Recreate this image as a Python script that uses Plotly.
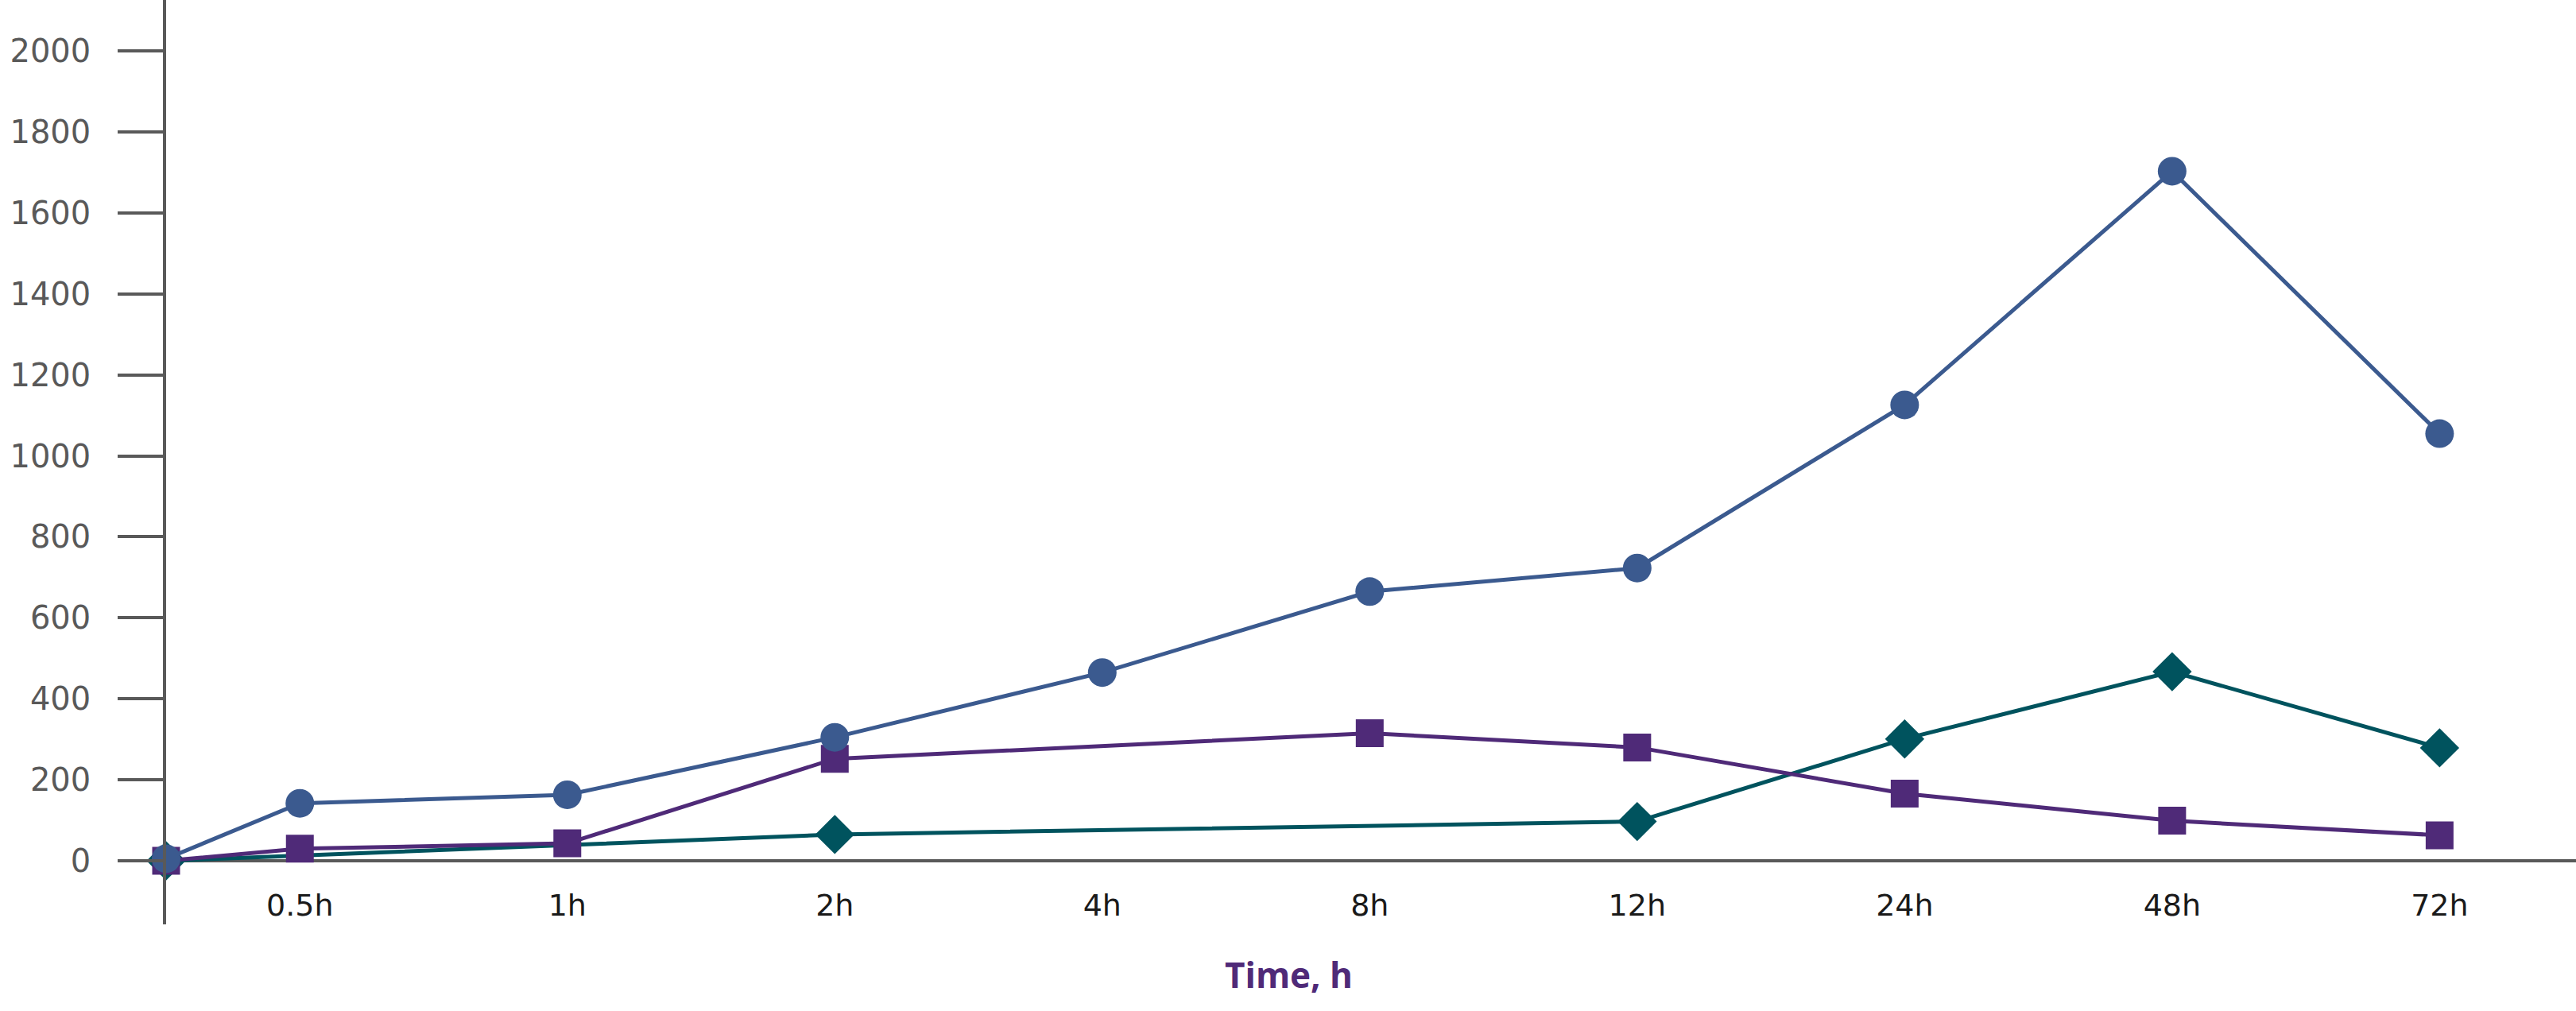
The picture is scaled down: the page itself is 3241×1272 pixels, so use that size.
import plotly.graph_objects as go

# ---- data ----
time_labels = ["0h", "0.5h", "1h", "2h", "4h", "8h", "12h", "24h", "48h", "72h"]
series_a = [5, 142, 163, 305, 465, 665, 723, 1126, 1703, 1055]      # circles (blue)
series_b = [0, 30, 43, 252, None, 315, 280, 166, 99, 63]            # squares (purple)
series_c = [0, None, None, 65, None, None, 97, 301, 467, 279]       # diamonds (teal)
y_ticks = [0, 200, 400, 600, 800, 1000, 1200, 1400, 1600, 1800, 2000]
x_title = "Time, h"

# ---- layout helpers ----
# origin point sits on the value axis, half a category before the first labelled time
x_pos = [-0.5] + list(range(len(time_labels) - 1))
tick_pos = x_pos[1:]
tick_text = time_labels[1:]

BLUE = "#3b5a8f"
PURPLE = "#4f2a78"
TEAL = "#00535e"
AXIS = "#595959"
FONT = "DejaVu Sans"

fig = go.Figure()
fig.add_trace(go.Scatter(x=x_pos, y=series_c, mode="lines+markers", connectgaps=True,
                         cliponaxis=False,
                         line=dict(color=TEAL, width=5),
                         marker=dict(symbol="diamond", size=38, color=TEAL, line=dict(width=0)),
                         showlegend=False))
fig.add_trace(go.Scatter(x=x_pos, y=series_b, mode="lines+markers", connectgaps=True,
                         cliponaxis=False,
                         line=dict(color=PURPLE, width=5),
                         marker=dict(symbol="square", size=35, color=PURPLE, line=dict(width=0)),
                         showlegend=False))
fig.add_trace(go.Scatter(x=x_pos, y=series_a, mode="lines+markers", connectgaps=True,
                         cliponaxis=False,
                         line=dict(color=BLUE, width=5),
                         marker=dict(symbol="circle", size=36, color=BLUE, line=dict(width=0)),
                         showlegend=False))

fig.update_layout(
    width=3241, height=1272,
    margin=dict(l=209, r=0, t=0, b=109),
    paper_bgcolor="white", plot_bgcolor="white",
    font=dict(family=FONT),
    xaxis=dict(range=[-0.5, 8.51], tickvals=tick_pos, ticktext=tick_text,
               showgrid=False, zeroline=False, showline=False, ticks="",
               ticklabelposition="inside",
               tickfont=dict(size=38, color="#1a1a1a", family=FONT)),
    yaxis=dict(range=[-157, 2126], tickvals=y_ticks, showgrid=False,
               zeroline=True, zerolinecolor=AXIS, zerolinewidth=3.5,
               showline=True, linecolor=AXIS, linewidth=3.5,
               ticks="outside", ticklen=57, tickwidth=3.5, tickcolor=AXIS,
               ticklabelstandoff=26,
               tickfont=dict(size=40, color=AXIS, family=FONT)),
    annotations=[dict(text="<b>" + x_title + "</b>", xref="paper", yref="paper",
                      x=(1621 - 209) / 3032, y=-(1226 - 1163) / 1163,
                      xanchor="center", yanchor="middle", showarrow=False,
                      font=dict(size=44, color=PURPLE, family="Open Sans"))],
)

fig.write_html("out.html", config={"displayModeBar": False},
               post_script="document.body.style.margin='0';")
